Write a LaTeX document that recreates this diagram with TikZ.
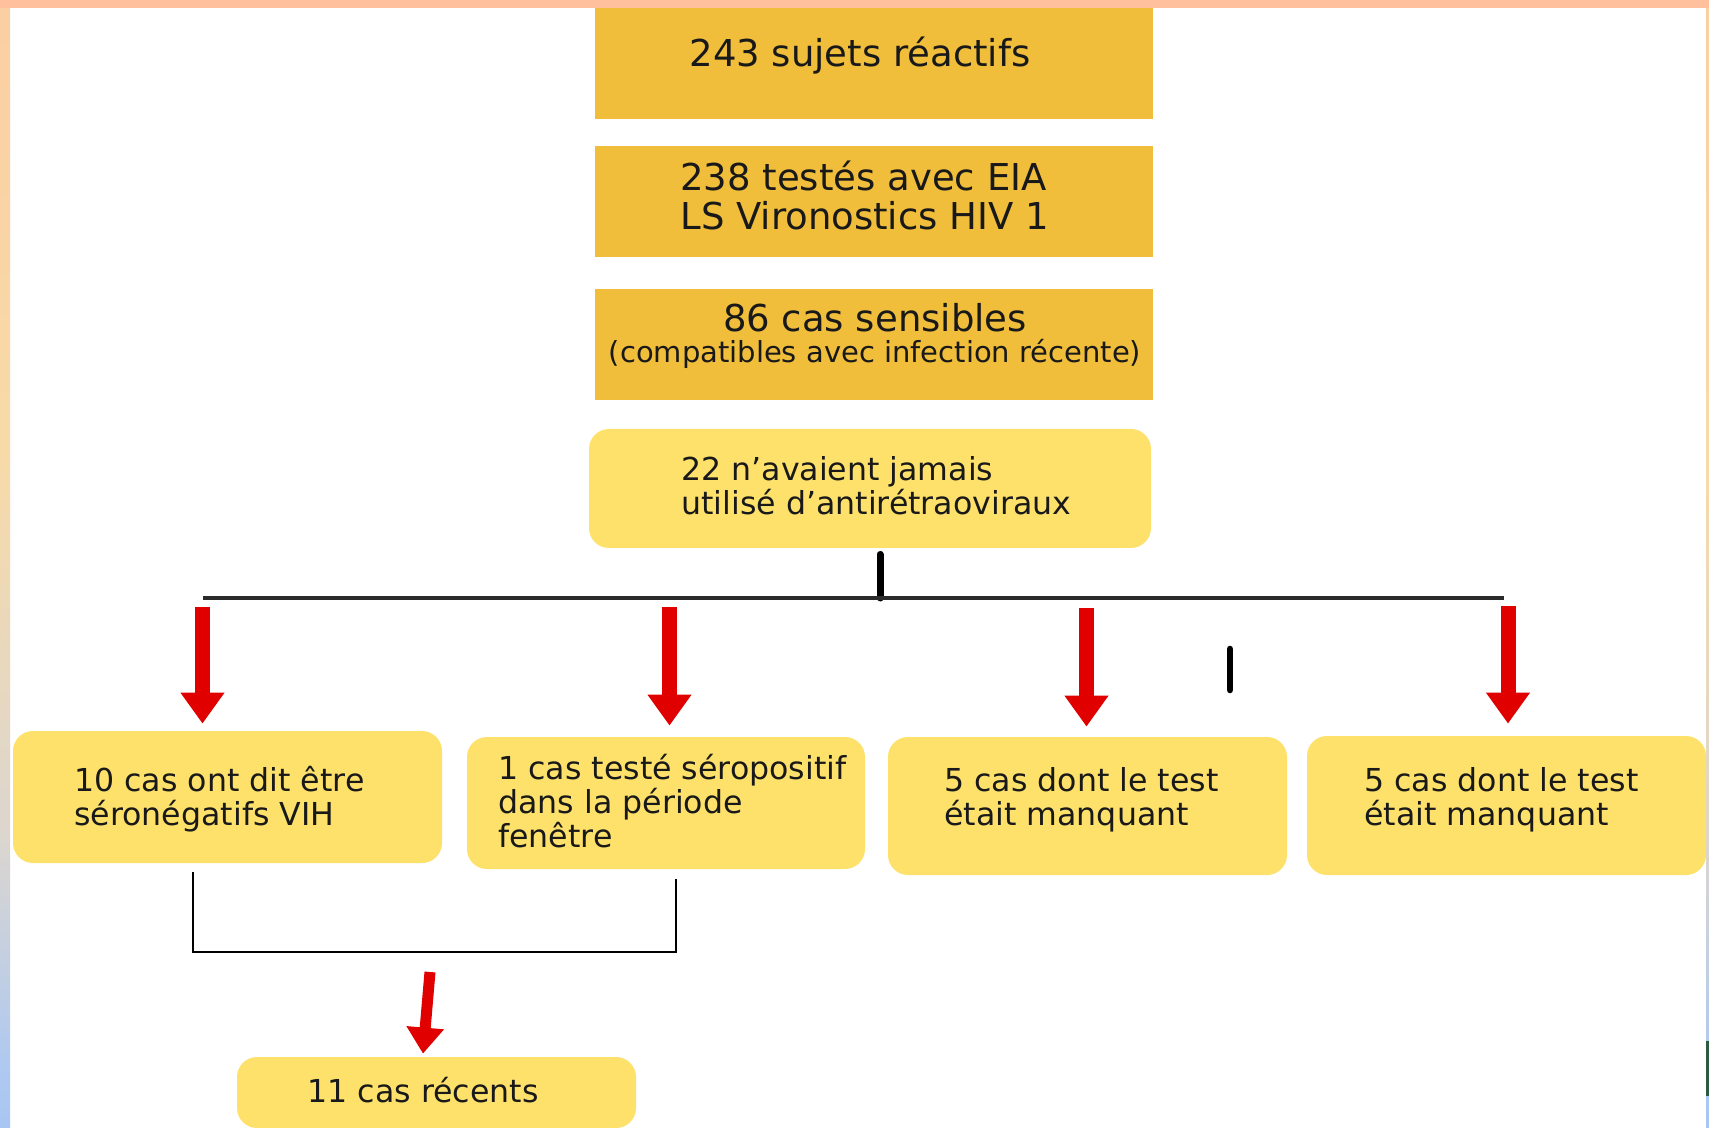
\documentclass[tikz,border=0pt]{standalone}
\usepackage{fontspec}
\setmainfont{DejaVu Sans}
\usetikzlibrary{arrows.meta}
\definecolor{boxgold}{HTML}{F0BE3B}
\definecolor{boxpale}{HTML}{FDE16B}
\definecolor{arrowred}{HTML}{E00000}
\definecolor{linegrey}{HTML}{2A2A2A}
\definecolor{peachside}{HTML}{FFC09E}
\definecolor{sandside}{HTML}{F8DAA8}
\definecolor{greyside}{HTML}{DCD6CF}
\definecolor{skyside}{HTML}{B0C9F0}
\definecolor{blueside}{HTML}{9BC1F8}
\definecolor{edgegreen}{HTML}{2D5B3D}
\pgfdeclareverticalshading{sidebar}{100bp}{color(0bp)=(blueside); color(20bp)=(blueside); color(28bp)=(skyside); color(38bp)=(greyside); color(55bp)=(sandside); color(100bp)=(peachside)}
\begin{document}
\begin{tikzpicture}[x=0.5pt,y=-0.5pt,
	gold/.style={fill=boxgold,inner sep=0pt,minimum width=279pt,minimum height=55.5pt},
	pale/.style={fill=boxpale,rounded corners=10pt,inner sep=0pt},
	big/.style={font=\fontsize{18.5}{19.5}\selectfont,text=black!90,inner sep=0pt},
	mid/.style={font=\fontsize{15.8}{17}\selectfont,text=black!90,inner sep=0pt},
	redarrow/.style={draw=arrowred,line width=7.5pt,-{Triangle[width=21pt,length=15.5pt]}},
	rule/.style={draw=linegrey,line width=1.5pt}]
	\useasboundingbox (0,0) rectangle (1709,1128);
	% frame
	\fill[white] (0,0) rectangle (1709,1128);
	\shade[shading=sidebar] (0,0) rectangle (10,1128);
	\shade[shading=sidebar] (1706,0) rectangle (1709,1128);
	\fill[edgegreen] (1706,1041) rectangle (1709,1096);
	% upper boxes
	\node[gold] (R1) at (874,63.5) {};
	\node[gold] (R2) at (874,201.5) {};
	\node[gold] (R3) at (874,344.5) {};
	\fill[peachside] (0,0) rectangle (1709,8);
	\node[pale,minimum width=281pt,minimum height=59.5pt] (N) at (870,488.5) {};
	\node[big,anchor=base] (T1) at (860,67) {243 sujets réactifs};
	\node[big,align=left,anchor=base west] (T2) at (680,230) {238 testés avec EIA\\LS Vironostics HIV 1};
	\node[big,align=center,anchor=base] (T3) at (875,363) {86 cas sensibles\\[-4pt]{\fontsize{14.5}{15.5}\selectfont (compatibles avec infection récente)}};
	\node[mid,align=left,anchor=base west] (T4) at (681,515) {22 n’avaient jamais\\utilisé d’antirétraoviraux};
	% lower boxes
	\node[pale,minimum width=214.5pt,minimum height=66pt] (A) at (227.5,797) {};
	\node[pale,minimum width=199pt,minimum height=66pt] (B) at (666,803) {};
	\node[pale,minimum width=199.5pt,minimum height=69pt] (C) at (1087.5,806) {};
	\node[pale,minimum width=199.5pt,minimum height=69.5pt] (D) at (1506.5,805.5) {};
	\node[pale,minimum width=199.5pt,minimum height=35.5pt] (E) at (436.5,1092.5) {};
	\node[mid,align=left,anchor=base west] (TA) at (74,825) {10 cas ont dit être\\séronégatifs VIH};
	\node[mid,align=left,anchor=base west] (TB) at (498,847) {1 cas testé séropositif\\dans la période\\fenêtre};
	\node[mid,align=left,anchor=base west] (TC) at (944,825) {5 cas dont le test\\était manquant};
	\node[mid,align=left,anchor=base west] (TD) at (1364,825) {5 cas dont le test\\était manquant};
	\node[mid,anchor=base] (TE) at (423,1102) {11 cas récents};
	% fork
	\coordinate (fork) at (880,598);
	\coordinate (barL) at (203,598);
	\coordinate (barR) at (1504,598);
	\draw[line width=3.5pt,line cap=round] ([yshift=-3pt]N.south -| fork) -- (fork);
	\draw[rule] (barL) -- (barR);
	\coordinate (a1) at (202.5,607);
	\coordinate (a2) at (669.5,607);
	\coordinate (a3) at (1086.5,608);
	\coordinate (a4) at (1508,606);
	\draw[redarrow,shorten >=3.5pt] (a1) -- (a1 |- A.north);
	\draw[redarrow,shorten >=5.5pt] (a2) -- (a2 |- B.north);
	\draw[redarrow,shorten >=5pt] (a3) -- (a3 |- C.north);
	\draw[redarrow,shorten >=6pt] (a4) -- (a4 |- D.north);
	\draw[line width=3.3pt,line cap=round] (1230,649) -- (1230,690);
	% join
	\coordinate (jl) at (193,952);
	\coordinate (jr) at (676,952);
	\draw[line width=1.1pt] ([yshift=-4.5pt]A.south -| jl) -- (jl) -- (jr) -- ([yshift=-5pt]B.south -| jr);
	\coordinate (a5) at (430,972);
	\draw[redarrow,line width=5.5pt,-{Triangle[width=18pt,length=13pt]}] (a5) -- ([xshift=-6.75pt,yshift=1.5pt]E.north);
\end{tikzpicture}
\end{document}
